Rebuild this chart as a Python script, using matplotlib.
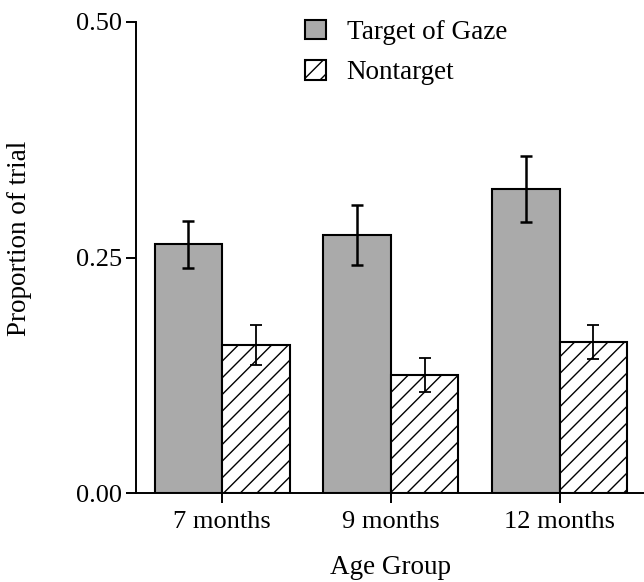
import numpy as np
import matplotlib
matplotlib.use('Agg')
import matplotlib.pyplot as plt

# Values
groups = ['7 months', '9 months', '12 months']
target_means = [0.264, 0.274, 0.323]
target_err = [0.025, 0.032, 0.035]
nontarget_means = [0.157, 0.125, 0.160]
nontarget_err = [0.021, 0.018, 0.018]
y_ticks = [0.00, 0.25, 0.50]

plt.rcParams['font.family'] = ['Liberation Serif', 'DejaVu Serif']
plt.rcParams['hatch.linewidth'] = 1.0

fig = plt.figure(figsize=(6.44, 5.82), dpi=100)
ax = fig.add_axes([136/644, 1 - 493/582, 1 - 136/644, (493 - 22)/582])

x = np.arange(len(groups))
width = 0.4

ax.bar(x - width/2, target_means, width, color='#aaaaaa', edgecolor='black',
       linewidth=1.5, label='Target of Gaze', zorder=2)
ax.bar(x + width/2, nontarget_means, width, color='white', edgecolor='black',
       linewidth=1.5, hatch='//', label='Nontarget', zorder=2)

ax.errorbar(x - width/2, target_means, yerr=target_err, fmt='none',
            ecolor='black', elinewidth=1.8, capsize=4.5, capthick=1.8, zorder=3)
ax.errorbar(x + width/2, nontarget_means, yerr=nontarget_err, fmt='none',
            ecolor='black', elinewidth=1.3, capsize=4, capthick=1.3, zorder=3)

ax.set_xlim(-0.51, 2.5)
ax.set_ylim(0, 0.5)
ax.set_yticks(y_ticks)
ax.set_yticklabels([f'{v:.2f}' for v in y_ticks])
ax.set_xticks(x)
ax.set_xticklabels(groups)

ax.tick_params(axis='both', labelsize=19, width=1.4, length=7, direction='out')
ax.tick_params(axis='x', pad=6)
ax.tick_params(axis='y', pad=3)

for side in ['top', 'right']:
    ax.spines[side].set_visible(False)
for side in ['left', 'bottom']:
    ax.spines[side].set_linewidth(1.4)

ax.set_ylabel('Proportion of trial', fontsize=19.5)
ax.yaxis.set_label_coords(-0.205, 0.54)
ax.set_xlabel('Age Group', fontsize=19.5, labelpad=16)

ax.legend(loc='upper left', bbox_to_anchor=(291/644, 1 - 6/582),
          bbox_transform=fig.transFigure, frameon=False, fontsize=19.5,
          borderpad=0, handlelength=0.8, handleheight=0.75,
          handletextpad=0.75, labelspacing=0.55)

fig.savefig('out.png', dpi=100)
